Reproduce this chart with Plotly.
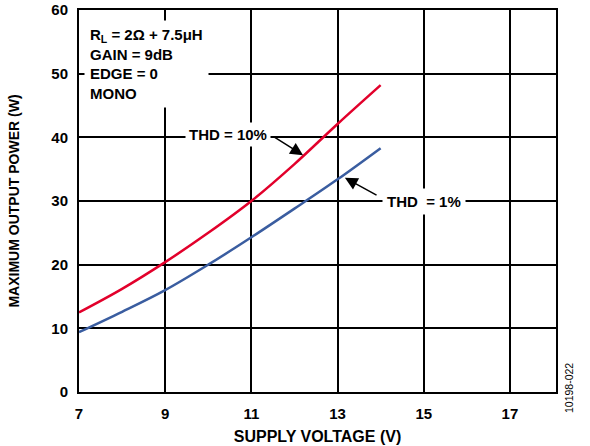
import plotly.graph_objects as go

voltage = [7, 8, 9, 10, 11, 12, 13, 14]
thd10 = [12.5, 16.2, 20.4, 25.0, 30.0, 35.8, 42.1, 48.2]
thd1 = [9.4, 12.6, 16.0, 20.0, 24.3, 28.8, 33.4, 38.3]
x_ticks = [7, 9, 11, 13, 15, 17]
y_ticks = [0, 10, 20, 30, 40, 50, 60]

FONT = "Liberation Sans, Arial, sans-serif"

W, H = 590, 446
L, R, T, B = 79, 34, 10, 54
PW, PH = W - L - R, H - T - B


def px(xp):
    return (xp - L) / PW


def py(yp):
    return (H - B - yp) / PH


fig = go.Figure()
fig.add_trace(go.Scatter(x=voltage, y=thd10, mode="lines",
                         line=dict(color="#E2002B", width=2.5, shape="spline"),
                         showlegend=False))
fig.add_trace(go.Scatter(x=voltage, y=thd1, mode="lines",
                         line=dict(color="#3A5DA0", width=2.5, shape="spline"),
                         showlegend=False))

# arrows
fig.add_annotation(x=12.2, y=37.2, ax=11.5, ay=40.2, axref="x", ayref="y",
                   xref="x", yref="y", text="", showarrow=True,
                   arrowhead=2, arrowsize=1.7, arrowwidth=1.5, arrowcolor="black")
fig.add_annotation(x=13.17, y=33.65, ax=13.94, ay=30.8, axref="x", ayref="y",
                   xref="x", yref="y", text="", showarrow=True,
                   arrowhead=2, arrowsize=1.7, arrowwidth=1.5, arrowcolor="black")

# labels
fig.add_annotation(x=10.45, y=40.5, xref="x", yref="y", text="<b>THD = 10%</b>",
                   showarrow=False, bgcolor="white", borderpad=3,
                   font=dict(family=FONT, size=15, color="black"))
fig.add_annotation(x=15.0, y=29.9, xref="x", yref="y", text="<b>THD  = 1%</b>",
                   showarrow=False, bgcolor="white", borderpad=4,
                   font=dict(family=FONT, size=15, color="black"))
fig.add_annotation(x=7.12, y=58.4, xref="x", yref="y", xanchor="left", yanchor="top",
                   align="left",
                   text="<b>R<sub>L</sub> = 2Ω + 7.5μH<br>GAIN = 9dB<br>EDGE = 0<br>MONO</b>",
                   showarrow=False, bgcolor="white", borderpad=5,
                   font=dict(family=FONT, size=15, color="black"))

# watermark
fig.add_annotation(x=px(577), y=py(415), xref="paper", yref="paper", text="10198-022",
                   showarrow=False, textangle=-90,
                   font=dict(family=FONT, size=10.5, color="black"))

fig.update_layout(
    width=W, height=H,
    margin=dict(l=L, r=R, t=T, b=B, autoexpand=False),
    paper_bgcolor="white", plot_bgcolor="white",
    font=dict(family=FONT, size=15, color="black"),
)

fig.update_xaxes(range=[7, 18.07], tickvals=x_ticks,
                 ticktext=[f"<b>{v}</b>" for v in x_ticks],
                 showgrid=True, gridcolor="black", gridwidth=1.5,
                 showline=True, linecolor="black", linewidth=2, mirror=True,
                 zeroline=False, ticks="", ticklabelstandoff=7, automargin=False,
                 tickfont=dict(family=FONT, size=15),
                 title=dict(text="<b>SUPPLY VOLTAGE (V)</b>", standoff=10,
                            font=dict(family=FONT, size=16)))
fig.update_yaxes(range=[0, 60], tickvals=y_ticks,
                 ticktext=[f"<b>{v}</b>" for v in y_ticks],
                 showgrid=True, gridcolor="black", gridwidth=1.5,
                 showline=True, linecolor="black", linewidth=2, mirror=True,
                 zeroline=False, ticks="", ticklabelstandoff=6, automargin=False,
                 tickfont=dict(family=FONT, size=15),
                 title=dict(text="<b>MAXIMUM OUTPUT POWER (W)</b>", standoff=28,
                            font=dict(family=FONT, size=14)))

fig.write_html("out.html", config={"displayModeBar": False},
               post_script="document.body.style.margin='0';")
